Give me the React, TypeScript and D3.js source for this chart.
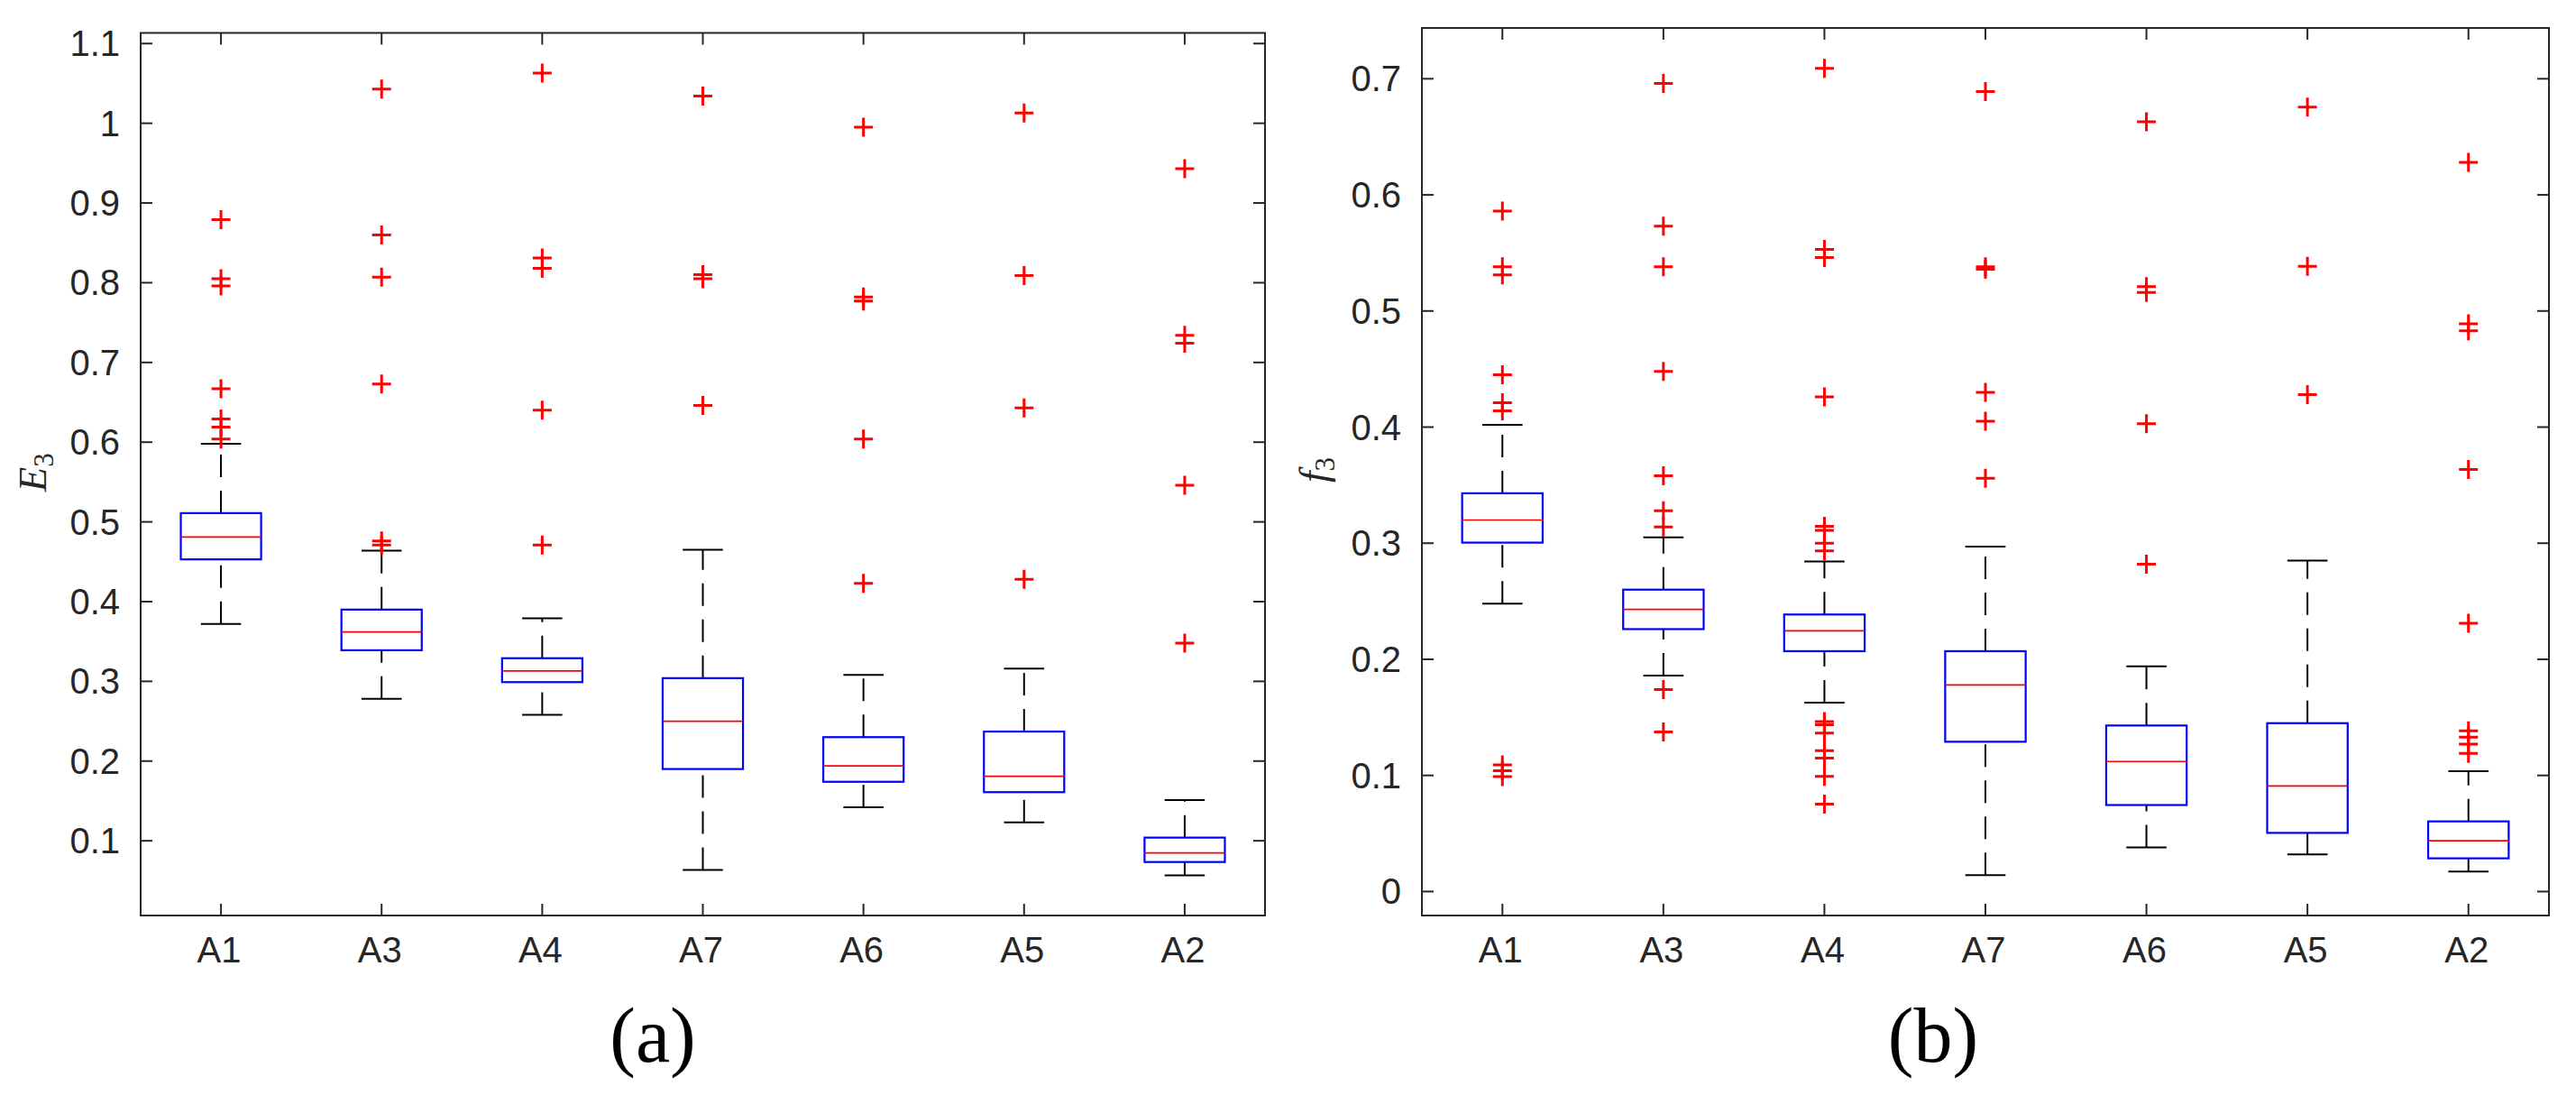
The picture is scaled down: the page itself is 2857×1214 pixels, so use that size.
import React from 'react';
import * as d3 from 'd3';

const categories = ['A1', 'A3', 'A4', 'A7', 'A6', 'A5', 'A2'];

// panel (a): E3 box statistics
const e3Low = [0.372, 0.278, 0.258, 0.0635, 0.142, 0.123, 0.0566];
const e3Q1 = [0.453, 0.339, 0.299, 0.19, 0.174, 0.161, 0.0734];
const e3Median = [0.481, 0.362, 0.313, 0.25, 0.194, 0.181, 0.0847];
const e3Q3 = [0.511, 0.39, 0.329, 0.304, 0.23, 0.237, 0.104];
const e3High = [0.598, 0.464, 0.379, 0.465, 0.308, 0.316, 0.151];
const e3Outliers = [
  [0.879, 0.805, 0.796, 0.667, 0.629, 0.619, 0.604],
  [1.043, 0.86, 0.807, 0.673, 0.476, 0.471],
  [1.063, 0.831, 0.818, 0.64, 0.471],
  [1.034, 0.81, 0.805, 0.646],
  [0.995, 0.782, 0.777, 0.604, 0.423],
  [1.013, 0.809, 0.643, 0.428],
  [0.943, 0.734, 0.724, 0.546, 0.348],
];
const e3Ticks = [0.1, 0.2, 0.3, 0.4, 0.5, 0.6, 0.7, 0.8, 0.9, 1, 1.1];

// panel (b): f3
const f3Low = [0.248, 0.186, 0.1626, 0.0141, 0.038, 0.032, 0.0172];
const f3Q1 = [0.3005, 0.226, 0.207, 0.129, 0.0745, 0.0505, 0.0286];
const f3Median = [0.32, 0.243, 0.2246, 0.178, 0.112, 0.091, 0.0438];
const f3Q3 = [0.343, 0.26, 0.2386, 0.207, 0.143, 0.145, 0.0604];
const f3High = [0.402, 0.305, 0.2843, 0.297, 0.194, 0.285, 0.1036];
const f3Outliers = [
  [0.586, 0.538, 0.531, 0.445, 0.421, 0.414, 0.109, 0.104, 0.099],
  [0.696, 0.573, 0.538, 0.448, 0.358, 0.328, 0.314, 0.174, 0.1375],
  [0.709, 0.553, 0.546, 0.426, 0.3146, 0.311, 0.3, 0.2933, 0.1463, 0.1437, 0.1365, 0.1214, 0.1149, 0.0991, 0.0752],
  [0.689, 0.538, 0.536, 0.43, 0.405, 0.356],
  [0.663, 0.521, 0.516, 0.403, 0.282],
  [0.6755, 0.5385, 0.428],
  [0.628, 0.489, 0.483, 0.3635, 0.231, 0.1385, 0.133, 0.127, 0.119],
];
const f3Ticks = [0, 0.1, 0.2, 0.3, 0.4, 0.5, 0.6, 0.7];

const AXIS = '#262626';
const SANS = '"Liberation Sans", Arial, Helvetica, sans-serif';
const SERIF = '"Liberation Serif", "Times New Roman", serif';

const BoxPanel = ({ frame, low, q1, med, q3, high, outliers, ticks, letter, caption, captionX }) => {
  // MATLAB boxplot pads the data range by 5%
  const all = [...low, ...high, ...outliers.flat()];
  const lo = d3.min(all);
  const hi = d3.max(all);
  const pad = (hi - lo) * 0.05;

  const x = d3.scalePoint().domain(categories).range([frame.left, frame.right]).padding(0.5);
  const y = d3.scaleLinear().domain([lo - pad, hi + pad]).range([frame.bottom, frame.top]);
  const step = x.step();
  const boxW = step * 0.5;
  const capW = step * 0.25;
  const tl = 13; // tick length
  const fmt = (v) => String(+v.toFixed(1));

  return (
    <g>
      {/* ticks on all four sides */}
      {ticks.map((t) => (
        <g key={'yt' + t}>
          <line x1={frame.left} x2={frame.left + tl} y1={y(t)} y2={y(t)} stroke={AXIS} strokeWidth={2} />
          <line x1={frame.right} x2={frame.right - tl} y1={y(t)} y2={y(t)} stroke={AXIS} strokeWidth={2} />
          <text x={frame.left - 23} y={y(t) + 14} textAnchor="end" fontSize={40} fontFamily={SANS} fill={AXIS}>
            {fmt(t)}
          </text>
        </g>
      ))}
      {categories.map((c) => (
        <g key={'xt' + c}>
          <line x1={x(c)} x2={x(c)} y1={frame.bottom} y2={frame.bottom - tl} stroke={AXIS} strokeWidth={2} />
          <line x1={x(c)} x2={x(c)} y1={frame.top} y2={frame.top + tl} stroke={AXIS} strokeWidth={2} />
          <text x={x(c) - 2} y={frame.bottom + 52} textAnchor="middle" fontSize={40} fontFamily={SANS} fill={AXIS}>
            {c}
          </text>
        </g>
      ))}

      {/* boxes */}
      {categories.map((c, i) => {
        const cx = x(c);
        return (
          <g key={'box' + c}>
            <line x1={cx} x2={cx} y1={y(low[i])} y2={y(q1[i])} stroke="#000" strokeWidth={2} strokeDasharray="25,15" />
            <line x1={cx} x2={cx} y1={y(q3[i])} y2={y(high[i])} stroke="#000" strokeWidth={2} strokeDasharray="25,15" />
            <line x1={cx - capW / 2} x2={cx + capW / 2} y1={y(low[i])} y2={y(low[i])} stroke="#000" strokeWidth={2} />
            <line x1={cx - capW / 2} x2={cx + capW / 2} y1={y(high[i])} y2={y(high[i])} stroke="#000" strokeWidth={2} />
            <rect
              x={cx - boxW / 2}
              y={y(q3[i])}
              width={boxW}
              height={y(q1[i]) - y(q3[i])}
              fill="none"
              stroke="#0000ff"
              strokeWidth={2.2}
            />
            <line x1={cx - boxW / 2} x2={cx + boxW / 2} y1={y(med[i])} y2={y(med[i])} stroke="#ff0000" strokeWidth={1.7} />
            {outliers[i].map((o, j) => (
              <path
                key={j}
                d={`M${cx - 10.5},${y(o)}H${cx + 10.5}M${cx},${y(o) - 10.5}V${y(o) + 10.5}`}
                stroke="#ff0000"
                strokeWidth={3}
                fill="none"
              />
            ))}
          </g>
        );
      })}

      <rect
        x={frame.left}
        y={frame.top}
        width={frame.right - frame.left}
        height={frame.bottom - frame.top}
        fill="none"
        stroke={AXIS}
        strokeWidth={2}
      />

      {/* y label, LaTeX style */}
      <text
        transform={`translate(${frame.left - 105}, ${(frame.top + frame.bottom) / 2 - 2}) rotate(-90)`}
        textAnchor="middle"
        fontFamily={SERIF}
        fill={AXIS}
      >
        <tspan fontSize={45} fontStyle="italic">{letter}</tspan>
        <tspan fontSize={31} dy={8}>3</tspan>
      </text>

      <text x={captionX} y={1177} textAnchor="middle" fontSize={86} fontFamily={SERIF} fill="#000">
        {caption}
      </text>
    </g>
  );
};

export default function App() {
  return (
    <svg
      width={2857}
      height={1214}
      style={{ position: 'absolute', left: 0, top: 0, background: '#fff' }}
    >
      <rect width={2857} height={1214} fill="#fff" />
      <BoxPanel
        frame={{ left: 156, right: 1403, top: 36.5, bottom: 1015 }}
        low={e3Low}
        q1={e3Q1}
        med={e3Median}
        q3={e3Q3}
        high={e3High}
        outliers={e3Outliers}
        ticks={e3Ticks}
        letter="E"
        caption="(a)"
        captionX={724}
      />
      <BoxPanel
        frame={{ left: 1577, right: 2827, top: 31, bottom: 1015 }}
        low={f3Low}
        q1={f3Q1}
        med={f3Median}
        q3={f3Q3}
        high={f3High}
        outliers={f3Outliers}
        ticks={f3Ticks}
        letter="f"
        caption="(b)"
        captionX={2144}
      />
    </svg>
  );
}
